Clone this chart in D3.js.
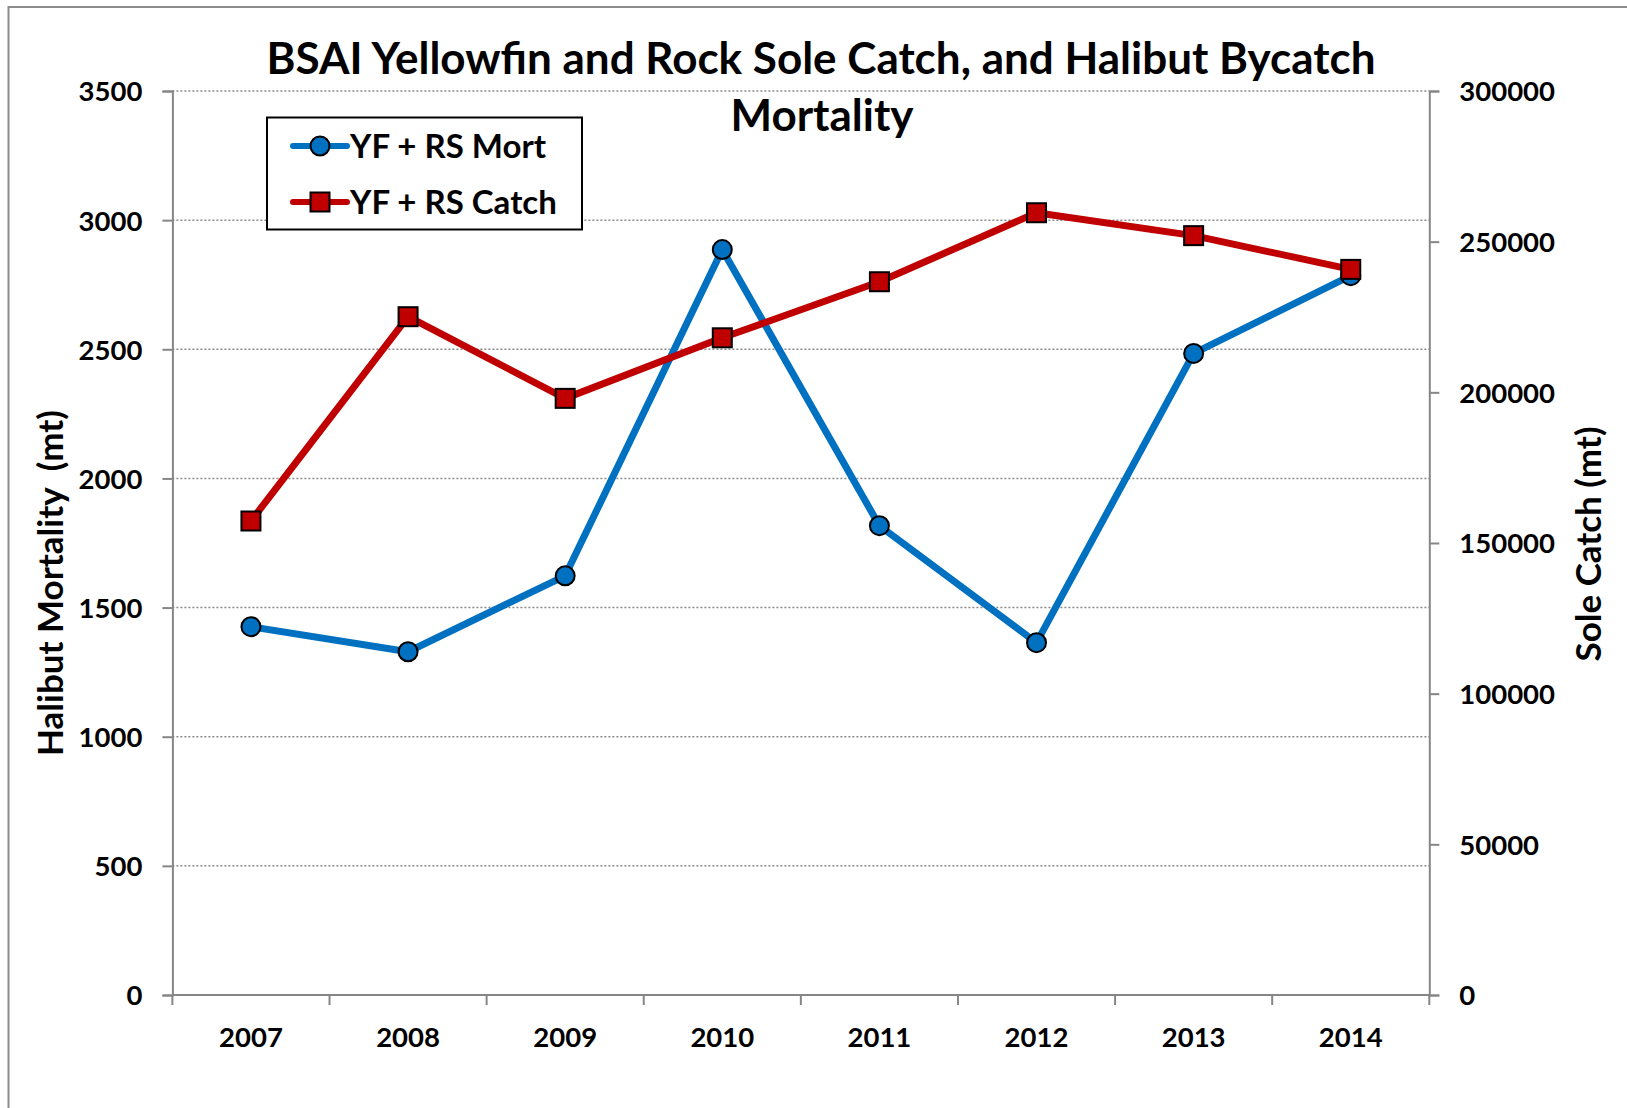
<!DOCTYPE html>
<html>
<head>
<meta charset="utf-8">
<script src="https://cdn.jsdelivr.net/npm/d3@7"></script>
<style>
  body { margin: 0; background: #fff; }
  svg { display: block; font-family: Lato, "Open Sans", sans-serif; font-weight: bold; }
</style>
</head>
<body>
<svg id="chart" width="1627" height="1108"></svg>
<script>
// data
const years = [2007, 2008, 2009, 2010, 2011, 2012, 2013, 2014];
const mortality = [1426, 1329, 1623, 2886, 1817, 1364, 2484, 2785];
const soleCatch = [157300, 225100, 198000, 218100, 236700, 259600, 252000, 240800];
const leftTicks = [0, 500, 1000, 1500, 2000, 2500, 3000, 3500];
const rightTicks = [0, 50000, 100000, 150000, 200000, 250000, 300000];

const svg = d3.select("#chart");
const plotL = 172.4, plotR = 1429.3, plotT = 91, plotB = 995;
const blue = "#0070C0", red = "#C00000", axisGray = "#868686";

// outer chart border
svg.append("rect")
  .attr("x", 8.5).attr("y", 7)
  .attr("width", 1700).attr("height", 1200)
  .attr("fill", "none").attr("stroke", "#8c8c8c").attr("stroke-width", 2);

const x = d3.scaleBand().domain(years).range([plotL, plotR]).padding(0);
const yL = d3.scaleLinear().domain([0, 3500]).range([plotB, plotT]);
const yR = d3.scaleLinear().domain([0, 300000]).range([plotB, plotT]);
const cx = d => x(d) + x.bandwidth() / 2;

// gridlines
svg.append("g")
  .selectAll("line")
  .data(leftTicks.filter(d => d > 0))
  .enter()
  .append("line")
  .attr("x1", plotL).attr("x2", plotR)
  .attr("y1", d => yL(d)).attr("y2", d => yL(d))
  .attr("stroke", "#8a8a8a").attr("stroke-width", 1.5)
  .attr("stroke-dasharray", "2,2");

// left axis
const gL = svg.append("g")
  .attr("transform", `translate(${plotL},0)`)
  .call(d3.axisLeft(yL).tickValues(leftTicks).tickSize(10).tickPadding(20).tickFormat(d3.format("d")));
// right axis
const gR = svg.append("g")
  .attr("transform", `translate(${plotR},0)`)
  .call(d3.axisRight(yR).tickValues(rightTicks).tickSize(10).tickPadding(20).tickFormat(d3.format("d")));
// bottom axis (labels only, ticks at category boundaries)
const gB = svg.append("g")
  .attr("transform", `translate(0,${plotB})`)
  .call(d3.axisBottom(x).tickSize(0).tickPadding(32));

[gL, gR, gB].forEach(g => {
  g.select(".domain").attr("stroke", axisGray).attr("stroke-width", 2);
  g.selectAll(".tick line").attr("stroke", axisGray).attr("stroke-width", 2);
  g.selectAll(".tick text")
    .attr("fill", "#000")
    .attr("font-size", 27.5)
    .attr("font-family", "Lato, 'Open Sans', sans-serif")
    .attr("font-weight", "bold");
});
gL.selectAll(".tick text").attr("dy", "0.36em");
gR.selectAll(".tick text").attr("dy", "0.36em");
gB.select(".domain").attr("d", `M${plotL},0H${plotR}`);

svg.append("g")
  .selectAll("line")
  .data(d3.range(years.length + 1))
  .enter()
  .append("line")
  .attr("x1", i => plotL + i * x.step()).attr("x2", i => plotL + i * x.step())
  .attr("y1", plotB).attr("y2", plotB + 10)
  .attr("stroke", axisGray).attr("stroke-width", 2);

// mortality series (left axis)
const mortLine = d3.line().x((d, i) => cx(years[i])).y(d => yL(d));
svg.append("path")
  .datum(mortality)
  .attr("d", mortLine)
  .attr("fill", "none").attr("stroke", blue).attr("stroke-width", 7)
  .attr("stroke-linejoin", "round");
svg.append("g")
  .selectAll("circle")
  .data(mortality)
  .enter()
  .append("circle")
  .attr("cx", (d, i) => cx(years[i])).attr("cy", d => yL(d))
  .attr("r", 9.5)
  .attr("fill", blue).attr("stroke", "#000").attr("stroke-width", 2);

// catch series (right axis)
const catchLine = d3.line().x((d, i) => cx(years[i])).y(d => yR(d));
svg.append("path")
  .datum(soleCatch)
  .attr("d", catchLine)
  .attr("fill", "none").attr("stroke", red).attr("stroke-width", 7)
  .attr("stroke-linejoin", "round");
svg.append("g")
  .selectAll("rect")
  .data(soleCatch)
  .enter()
  .append("rect")
  .attr("x", (d, i) => cx(years[i]) - 9.5).attr("y", d => yR(d) - 9.5)
  .attr("width", 19).attr("height", 19)
  .attr("fill", red).attr("stroke", "#000").attr("stroke-width", 2);

// title
const title = svg.append("text")
  .attr("text-anchor", "middle")
  .attr("font-size", 44);
title.append("tspan").attr("x", 821).attr("y", 74)
  .text("BSAI Yellowfin and Rock Sole Catch, and Halibut Bycatch");
title.append("tspan").attr("x", 822).attr("y", 131)
  .text("Mortality");

// axis titles
svg.append("text")
  .attr("transform", "translate(63,583) rotate(-90)")
  .attr("text-anchor", "middle")
  .attr("font-size", 35)
  .attr("xml:space", "preserve")
  .text("Halibut Mortality  (mt)");
svg.append("text")
  .attr("transform", "translate(1601,544) rotate(-90)")
  .attr("text-anchor", "middle")
  .attr("font-size", 35)
  .text("Sole Catch (mt)");

// legend
const legend = svg.append("g");
legend.append("rect")
  .attr("x", 267).attr("y", 117.5)
  .attr("width", 315).attr("height", 112)
  .attr("fill", "#fff").attr("stroke", "#000").attr("stroke-width", 2);
const items = [
  {name: "YF + RS Mort", color: blue, shape: "circle", y: 146},
  {name: "YF + RS Catch", color: red, shape: "square", y: 202}
];
items.forEach(it => {
  legend.append("line")
    .attr("x1", 293).attr("x2", 347)
    .attr("y1", it.y).attr("y2", it.y)
    .attr("stroke", it.color).attr("stroke-width", 6).attr("stroke-linecap", "round");
  if (it.shape === "circle") {
    legend.append("circle").attr("cx", 320).attr("cy", it.y).attr("r", 9.5)
      .attr("fill", it.color).attr("stroke", "#000").attr("stroke-width", 2);
  } else {
    legend.append("rect").attr("x", 310.5).attr("y", it.y - 9.5)
      .attr("width", 19).attr("height", 19)
      .attr("fill", it.color).attr("stroke", "#000").attr("stroke-width", 2);
  }
  legend.append("text")
    .attr("x", 350).attr("y", it.y)
    .attr("dy", "0.36em")
    .attr("font-size", 33)
    .text(it.name);
});
</script>
</body>
</html>
